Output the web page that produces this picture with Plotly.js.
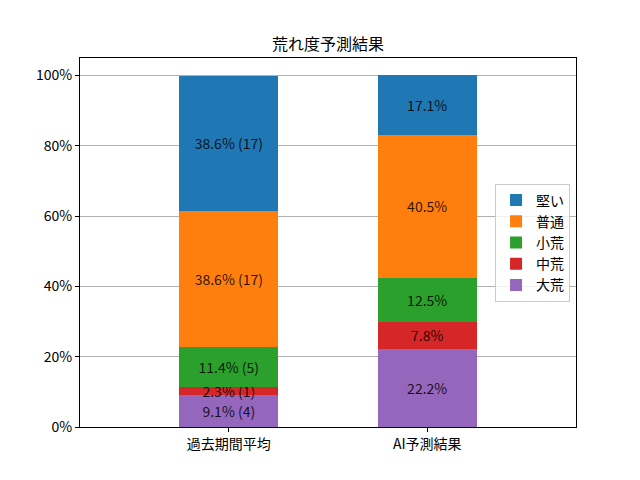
<!DOCTYPE html>
<html>
<head>
<meta charset="utf-8">
<script src="https://cdn.plot.ly/plotly-3.0.1.min.js"></script>
<style>
  html, body { margin: 0; padding: 0; background: #fff; }
  #chart { width: 640px; height: 480px; }
</style>
</head>
<body>
<div id="chart"></div>
<script>
// ---- data --------------------------------------------------------------------
const CATEGORIES = ['過去期間平均', 'AI予測結果'];
const SERIES     = ['大荒', '中荒', '小荒', '普通', '堅い'];   // bottom → top
const COLORS     = ['#9467bd', '#d62728', '#2ca02c', '#ff7f0e', '#1f77b4'];

// percentage per series, [過去期間平均, AI予測結果]
const PCT_OOARE  = [9.1, 22.2];
const PCT_CHUARE = [2.3, 7.8];
const PCT_SHOARE = [11.4, 12.5];
const PCT_FUTSU  = [38.6, 40.5];
const PCT_KATAI  = [38.6, 17.1];

// race counts (only known for the past period)
const CNT_OOARE  = [4, null];
const CNT_CHUARE = [1, null];
const CNT_SHOARE = [5, null];
const CNT_FUTSU  = [17, null];
const CNT_KATAI  = [17, null];

const Y_TICKS = [0, 20, 40, 60, 80, 100];

const PCTS = [PCT_OOARE, PCT_CHUARE, PCT_SHOARE, PCT_FUTSU, PCT_KATAI];
const CNTS = [CNT_OOARE, CNT_CHUARE, CNT_SHOARE, CNT_FUTSU, CNT_KATAI];

const FONT = '"Noto Sans CJK JP", "DejaVu Sans", sans-serif';

// ---- traces ------------------------------------------------------------------
const traces = SERIES.map((name, i) => ({
  type: 'bar',
  name,
  x: CATEGORIES,
  y: PCTS[i],
  width: 0.5,
  marker: { color: COLORS[i], line: { width: 0 } },
  text: PCTS[i].map((p, j) =>
    CNTS[i][j] == null ? p.toFixed(1) + '%' : `${p.toFixed(1)}% (${CNTS[i][j]})`),
  textposition: 'inside',
  insidetextanchor: 'middle',
  textangle: 0,
  constraintext: 'none',
  cliponaxis: false,
  textfont: { family: FONT, size: 14, color: 'rgba(0,0,0,0.85)' },
  hoverinfo: 'skip',
}));

const layout = {
  width: 640, height: 480,
  paper_bgcolor: '#fff', plot_bgcolor: '#fff',
  font: { family: FONT, size: 14, color: '#000' },
  barmode: 'stack',
  margin: { l: 80, r: 64, t: 57.6, b: 52.8 },
  title: {
    text: '荒れ度予測結果',
    font: { family: FONT, size: 16, color: '#000' },
    x: 0.5, xref: 'paper', xanchor: 'center',
    y: 1, yref: 'paper', yanchor: 'bottom', pad: { b: 8 },
  },
  xaxis: {
    type: 'category',
    range: [-0.75, 1.75],
    showgrid: false, zeroline: false,
    showline: true, linecolor: '#000', linewidth: 1, mirror: true,
    ticks: 'outside', ticklen: 4, tickcolor: '#000',
    tickfont: { family: FONT, size: 14, color: '#000' },
  },
  yaxis: {
    range: [0, 105],
    tickmode: 'array',
    tickvals: Y_TICKS,
    ticktext: Y_TICKS.map(v => v + '%'),
    showgrid: true, gridcolor: '#b0b0b0', gridwidth: 1,
    zeroline: false,
    showline: true, linecolor: '#000', linewidth: 1, mirror: true,
    ticks: 'outside', ticklen: 4, tickcolor: '#000',
    tickfont: { family: FONT, size: 14, color: '#000' },
  },
  legend: {
    traceorder: 'reversed',
    x: 0.988, xanchor: 'right',
    y: 0.5, yanchor: 'middle',
    bgcolor: 'rgba(255,255,255,0.8)',
    bordercolor: '#cccccc', borderwidth: 1,
    font: { family: FONT, size: 14, color: '#000' },
    itemwidth: 30,
  },
  showlegend: true,
};

Plotly.newPlot('chart', traces, layout, { displayModeBar: false, staticPlot: true });
</script>
</body>
</html>
